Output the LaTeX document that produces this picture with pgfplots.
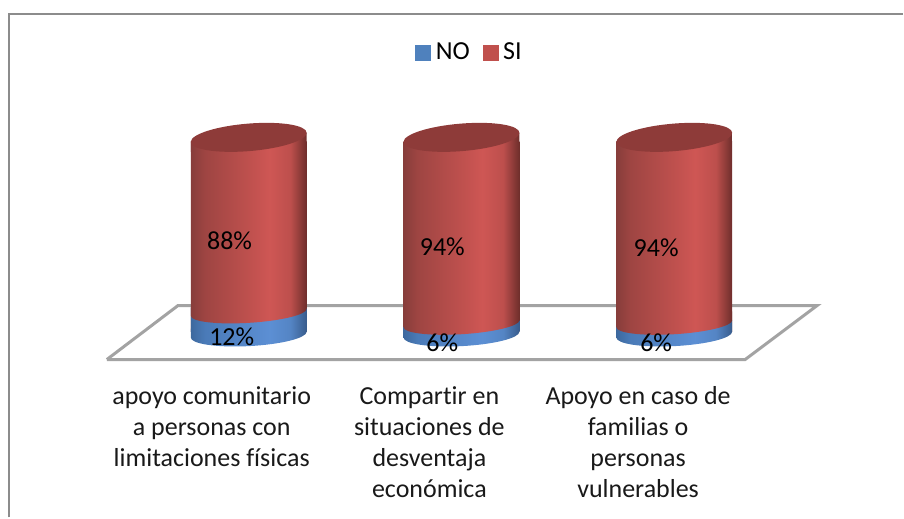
\documentclass[border=0pt]{standalone}
\usepackage{pgfplots}
\usepackage{pgfplotstable}
\pgfplotsset{compat=1.18}
\usepackage{fontspec}
\setmainfont[Ligatures=NoCommon]{Carlito}
\definecolor{nocol}{HTML}{4F81BD}
\definecolor{sicol}{HTML}{C0504D}
\definecolor{floorcol}{HTML}{A3A3A3}
\definecolor{framecol}{HTML}{8C8C8C}
\pgfdeclarehorizontalshading{cylred}{100bp}{
  rgb(0bp)=(0.53,0.24,0.23);
  rgb(25bp)=(0.53,0.24,0.23);
  rgb(31bp)=(0.62,0.27,0.26);
  rgb(52bp)=(0.76,0.32,0.31);
  rgb(59bp)=(0.81,0.34,0.33);
  rgb(68bp)=(0.74,0.31,0.30);
  rgb(75bp)=(0.43,0.18,0.17);
  rgb(100bp)=(0.43,0.18,0.17)}
\pgfdeclarehorizontalshading{cylblue}{100bp}{
  rgb(0bp)=(0.24,0.41,0.62);
  rgb(25bp)=(0.24,0.41,0.62);
  rgb(31bp)=(0.29,0.48,0.72);
  rgb(59bp)=(0.36,0.56,0.83);
  rgb(68bp)=(0.33,0.52,0.77);
  rgb(75bp)=(0.22,0.36,0.55);
  rgb(100bp)=(0.22,0.36,0.55)}
% lower half of a sheared ellipse with a strip above it, in the current transform
\newcommand{\lowerarcpath}[1]{%
  \pgfpathmoveto{\pgfpoint{-58pt}{0pt}}%
  \pgfpatharc{180}{360}{58pt and #1pt}%
  \pgfpathlineto{\pgfpoint{58pt}{9pt}}%
  \pgfpathlineto{\pgfpoint{-58pt}{9pt}}%
  \pgfpathclose}
\pgfdeclareplotmark{captop}{%
  \pgftransformyshift{4.5pt}%
  \pgftransformcm{1}{0.078}{0}{1}{\pgfpointorigin}%
  \pgfpathrectanglecorners{\pgfpoint{-58pt}{-10pt}}{\pgfpoint{58pt}{0pt}}%
  \pgfshadepath{cylred}{0}\pgfusepath{}%
  \pgfsetfillcolor{sicol!74!black}%
  \pgfpathellipse{\pgfpointorigin}{\pgfpoint{58pt}{0pt}}{\pgfpoint{0pt}{13.8pt}}%
  \pgfusepath{fill}}
\pgfdeclareplotmark{capmid}{%
  \pgftransformyshift{-3.5pt}%
  \pgftransformcm{1}{0.06}{0}{1}{\pgfpointorigin}%
  \lowerarcpath{10.5}%
  \pgfshadepath{cylred}{0}\pgfusepath{}}
\pgfdeclareplotmark{capbot}{%
  \pgftransformyshift{-3pt}%
  \pgftransformcm{1}{0.05}{0}{1}{\pgfpointorigin}%
  \lowerarcpath{11.5}%
  \pgfshadepath{cylblue}{0}\pgfusepath{}}
\pgfplotstableread{
x no si
0 12 88
1 6 94
2 6 94
}\datatable
\pgfplotstableread{
lx ly val
-0.09 47.9 88
0.91 44.7 94
1.915 44.2 94
-0.08 -2.6 12
0.91 -5.8 6
1.915 -5.8 6
}\labeltable
\begin{document}
\begin{tikzpicture}[x=1pt,y=1pt]
\fontsize{26}{31}\selectfont
\begin{axis}[
  width=904pt,height=518pt,scale only axis,
  xmin=-1.169,xmax=3.075,ymin=-97.89,ymax=174.74,
  clip=false,
  axis line style={draw=none},
  tick style={draw=none},
  ytick=\empty,
  xtick={-0.174,0.849,1.83},
  xticklabels={{apoyo comunitario\\a personas con\\limitaciones físicas},
    {Compartir en\\situaciones de\\desventaja\\económica},
    {Apoyo en caso de\\familias o\\personas\\vulnerables}},
  xticklabel style={align=center,anchor=north,yshift=140pt,font=\fontsize{26}{31}\selectfont,text=black!90},
  legend style={at={(470/904,1-53/518)},anchor=center,draw=none,fill=none,
    legend columns=2,font=\fontsize{26}{26}\selectfont,
    /tikz/every even column/.append style={column sep=11pt}},
  legend cell align=left,
]
\addlegendimage{area legend,legend image code/.code={\fill[nocol] (-4.5pt,-7.5pt) rectangle (10.5pt,7.5pt);}}
\addlegendentry{\hspace{3pt}NO}
\addlegendimage{area legend,legend image code/.code={\fill[sicol] (-4.5pt,-7.5pt) rectangle (10.5pt,7.5pt);}}
\addlegendentry{\hspace{3pt}SI}
% chart frame
\addplot[framecol,line width=2pt,forget plot] coordinates {(-1.129,-97.89) (-1.129,167.4) (3.075,167.4)};
% floor
\addplot[floorcol,line width=3pt,forget plot] coordinates {(-0.667,-14.7) (-0.333,13.7) (2.671,13.7) (2.333,-14.7) (-0.667,-14.7)};
% bottom caps
\addplot[only marks,mark=capbot,forget plot] table[x=x,y expr=0] {\datatable};
\pgfplotsinvokeforeach{0,1,2}{
  % red body, from 0 to NO+SI
  \addplot[ybar,bar width=116pt,bar shift=0pt,draw=none,shade,shading=cylred,forget plot,restrict x to domain=#1:#1] table[x=x,y expr=\thisrow{no}+\thisrow{si}] {\datatable};
  % blue body
  \addplot[ybar,bar width=116pt,bar shift=0pt,draw=none,shade,shading=cylblue,forget plot,restrict x to domain=#1:#1] table[x=x,y=no] {\datatable};
}
% boundary caps
\addplot[only marks,mark=capmid,forget plot] table[x=x,y=no] {\datatable};
% top caps
\addplot[only marks,mark=captop,forget plot] table[x=x,y expr=\thisrow{no}+\thisrow{si}] {\datatable};
% data labels
\addplot[only marks,mark=none,forget plot,point meta=explicit,
  /pgf/number format/assume math mode=true,
  nodes near coords={\pgfmathprintnumber{\pgfplotspointmeta}\%},
  every node near coord/.style={anchor=center,font=\fontsize{26}{26}\selectfont,text=black}]
  table[x=lx,y=ly,meta=val] {\labeltable};
\end{axis}
\end{tikzpicture}
\end{document}
